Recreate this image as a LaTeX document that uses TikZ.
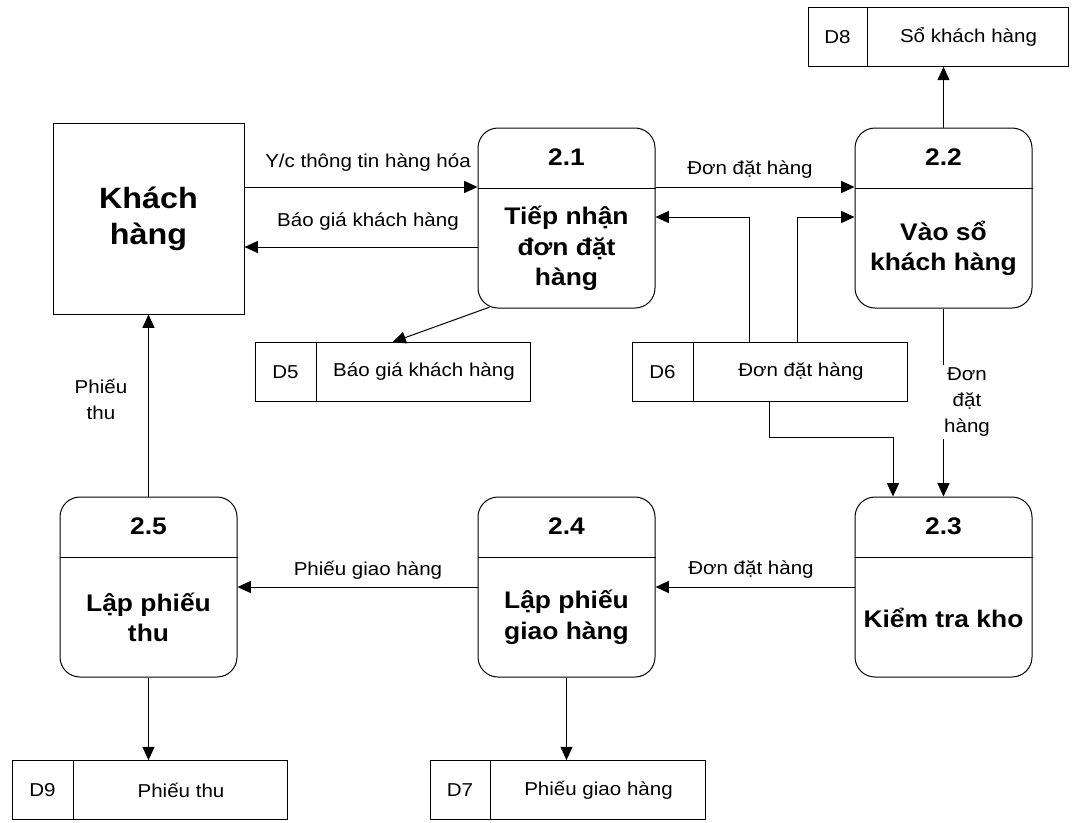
\documentclass[tikz,border=0pt]{standalone}
\usepackage{fontspec}
\setmainfont{Liberation Sans}[FakeStretch=1.1]
\usetikzlibrary{arrows.meta,calc}

\begin{document}
\begin{tikzpicture}[x=0.75pt,y=-0.75pt,
  line width=0.75pt,
  arr/.style={-{Triangle[length=10pt,width=9pt]}},
  proc/.style={draw, rounded corners=15pt, minimum width=132.75pt, minimum height=135pt, inner sep=0pt},
  store/.style={draw, minimum height=44pt, inner sep=0pt},
  num/.style={font=\bfseries\fontsize{18}{22}\selectfont},
  ptext/.style={font=\bfseries\fontsize{18}{23}\selectfont, align=center},
  lbl/.style={font=\fontsize{14}{19.5}\selectfont, align=center, inner sep=1pt},
]
\fill[white] (0,0) rectangle (1075,822);
\useasboundingbox (0,0) rectangle (1075,822);

% external entity
\node[draw, minimum width=143.25pt, minimum height=143.25pt, align=center,
      font=\bfseries\fontsize{22}{27}\selectfont] (kh) at (148.5,218.5) {Khách\\hàng};

% processes
\node[proc] (p21) at (566.5,218) {};
\node[proc] (p22) at (943.5,218) {};
\node[proc] (p23) at (943.5,587) {};
\node[proc] (p24) at (566.5,587) {};
\node[proc] (p25) at (148.5,587) {};
\foreach \p in {p21,p22,p23,p24,p25}
  \draw ($(\p.north west)+(0,61)$) -- ($(\p.north east)+(0,61)$);

\node[num] (n21) at ($(p21.north)+(0,30)$) {2.1};
\node[num] (n22) at ($(p22.north)+(0,30)$) {2.2};
\node[num] (n23) at ($(p23.north)+(0,30)$) {2.3};
\node[num] (n24) at ($(p24.north)+(0,30)$) {2.4};
\node[num] (n25) at ($(p25.north)+(0,30)$) {2.5};

\node[ptext] (t21) at ($(p21.south)+(0,-60)$) {Tiếp nhận\\đơn đặt\\hàng};
\node[ptext] (t22) at ($(p22.south)+(0,-60)$) {Vào sổ\\khách hàng};
\node[ptext] (t23) at ($(p23.south)+(0,-60)$) {Kiểm tra kho};
\node[ptext] (t24) at ($(p24.south)+(0,-60)$) {Lập phiếu\\giao hàng};
\node[ptext] (t25) at ($(p25.south)+(0,-60)$) {Lập phiếu\\thu};

% data stores
\node[store, minimum width=206.25pt] (d5) at (392.5,372) {};
\node[store, minimum width=206.25pt] (d6) at (769.5,372) {};
\node[store, minimum width=195pt]    (d8) at (938,37) {};
\node[store, minimum width=206.25pt] (d9) at (149.5,790) {};
\node[store, minimum width=206.25pt] (d7) at (567.5,790) {};
\foreach \d/\w in {d5/62,d6/62,d8/60,d9/62,d7/61}
  \draw ($(\d.north west)+(\w,0)$) -- ($(\d.south west)+(\w,0)$);

\node[lbl] (d5id) at ($(d5.west)+(31,0)$) {D5};
\node[lbl] (d5nm) at ($(d5.east)+(-106.5,0)$) {Báo giá khách hàng};
\node[lbl] (d6id) at ($(d6.west)+(31,0)$) {D6};
\node[lbl] (d6nm) at ($(d6.east)+(-106.5,0)$) {Đơn đặt hàng};
\node[lbl] (d8id) at ($(d8.west)+(30,0)$) {D8};
\node[lbl] (d8nm) at ($(d8.east)+(-100,0)$) {Sổ khách hàng};
\node[lbl] (d9id) at ($(d9.west)+(31,0)$) {D9};
\node[lbl] (d9nm) at ($(d9.east)+(-106.5,0)$) {Phiếu thu};
\node[lbl] (d7id) at ($(d7.west)+(30.5,0)$) {D7};
\node[lbl] (d7nm) at ($(d7.east)+(-107,0)$) {Phiếu giao hàng};

% routing rows and columns
\coordinate (r1) at (0,187);
\coordinate (r2) at (0,247);
\coordinate (r3) at (0,217);
\coordinate (r5) at (0,437);
\coordinate (c1) at (749,0);
\coordinate (c2) at (797,0);
\coordinate (c3) at (769,0);
\coordinate (c4) at (893,0);

% flows
\draw[arr] (kh.east |- r1) -- (p21.west |- r1);
\draw[arr] (p21.west |- r2) -- (kh.east |- r2);
\draw[arr] (p21.east |- r1) -- (p22.west |- r1);
\draw[arr] ([xshift=9pt,yshift=1pt]p21.south west) -- (d5.north);
\draw[arr] (d6.north -| c1) |- (p21.east |- r3);
\draw[arr] (d6.north -| c2) |- (p22.west |- r3);
\draw[arr] (p22.north) -- (p22.north |- d8.south);
\draw[arr] (p22.south) -- (p23.north);
\draw[arr] (d6.south -| c3) |- (c4 |- r5) -- (c4 |- p23.north);
\draw[arr] (p23.west) -- (p24.east);
\draw[arr] (p24.west) -- (p25.east);
\draw[arr] (p25.north) -- (kh.south);
\draw[arr] (p25.south) -- (p25.south |- d9.north);
\draw[arr] (p24.south) -- (p24.south |- d7.north);

% flow labels
\node[lbl] (l1) at (368,163) {Y/c thông tin hàng hóa};
\node[lbl] (l2) at (368,222) {Báo giá khách hàng};
\node[lbl] (l3) at (750,170) {Đơn đặt hàng};
\node[lbl] (l4) at (751,570) {Đơn đặt hàng};
\node[lbl] (l5) at (368,570) {Phiếu giao hàng};
\node[lbl, fill=white, inner sep=2pt] (l6) at (967,402) {Đơn\\đặt\\hàng};
\node[lbl] (l7) at (101,399) {Phiếu\\thu};
\end{tikzpicture}
\end{document}
